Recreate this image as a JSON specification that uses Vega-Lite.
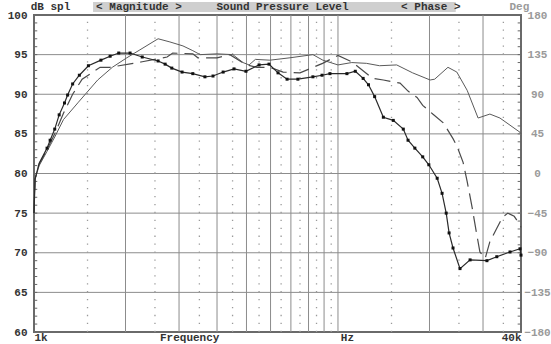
{
  "$schema": "https://vega.github.io/schema/vega-lite/v6.json",
  "width": 487,
  "height": 317,
  "autosize": {"type": "none"},
  "padding": {"left": 34, "top": 15, "right": 30, "bottom": 12},
  "background": "white",
  "config": {
    "view": {"stroke": "#6a6a6a", "strokeWidth": 2},
    "axis": {"grid": false, "ticks": false, "domain": false, "labelFont": "Liberation Mono", "labelFontSize": 11, "labelFontWeight": "bold", "labelColor": "#333333", "labelOverlap": false}
  },
  "datasets": {
    "curves": [
      {"s":"A","f":1000,"db":75.0},{"s":"A","f":1008,"db":79.3},{"s":"A","f":1040,"db":81.3},{"s":"A","f":1104,"db":83.2},{"s":"A","f":1130,"db":84.2},{"s":"A","f":1170,"db":85.6},{"s":"A","f":1210,"db":87.4},{"s":"A","f":1260,"db":88.9},{"s":"A","f":1290,"db":89.9},{"s":"A","f":1340,"db":91.3},{"s":"A","f":1410,"db":92.4},{"s":"A","f":1510,"db":93.6},{"s":"A","f":1660,"db":94.3},{"s":"A","f":1780,"db":94.8},{"s":"A","f":1900,"db":95.2},{"s":"A","f":2070,"db":95.2},{"s":"A","f":2270,"db":94.7},{"s":"A","f":2560,"db":94.2},{"s":"A","f":2700,"db":93.8},{"s":"A","f":2840,"db":93.3},{"s":"A","f":3070,"db":92.8},{"s":"A","f":3330,"db":92.6},{"s":"A","f":3650,"db":92.2},{"s":"A","f":3880,"db":92.3},{"s":"A","f":4190,"db":92.8},{"s":"A","f":4550,"db":93.2},{"s":"A","f":4980,"db":92.9},{"s":"A","f":5500,"db":93.7},{"s":"A","f":5930,"db":93.8},{"s":"A","f":6350,"db":92.7},{"s":"A","f":6800,"db":91.9},{"s":"A","f":7380,"db":91.9},{"s":"A","f":8270,"db":92.2},{"s":"A","f":8860,"db":92.4},{"s":"A","f":9410,"db":92.6},{"s":"A","f":10700,"db":92.6},{"s":"A","f":11400,"db":92.9},{"s":"A","f":12100,"db":92.0},{"s":"A","f":12600,"db":91.2},{"s":"A","f":13200,"db":89.7},{"s":"A","f":14100,"db":87.1},{"s":"A","f":15200,"db":86.7},{"s":"A","f":16400,"db":85.6},{"s":"A","f":17000,"db":84.2},{"s":"A","f":17900,"db":83.2},{"s":"A","f":19000,"db":82.1},{"s":"A","f":19900,"db":81.1},{"s":"A","f":21200,"db":79.4},{"s":"A","f":22000,"db":77.5},{"s":"A","f":22700,"db":75.0},{"s":"A","f":23200,"db":72.5},{"s":"A","f":23900,"db":70.6},{"s":"A","f":25200,"db":68.0},{"s":"A","f":27200,"db":69.1},{"s":"A","f":30900,"db":69.0},{"s":"A","f":33300,"db":69.5},{"s":"A","f":36800,"db":70.1},{"s":"A","f":39700,"db":70.5},{"s":"A","f":40000,"db":69.7},
      {"s":"B","f":1000,"db":75.0},{"s":"B","f":1008,"db":79.3},{"s":"B","f":1040,"db":81.0},{"s":"B","f":1104,"db":82.8},{"s":"B","f":1170,"db":84.6},{"s":"B","f":1250,"db":86.8},{"s":"B","f":1400,"db":89.0},{"s":"B","f":1620,"db":91.8},{"s":"B","f":1810,"db":93.4},{"s":"B","f":2020,"db":94.6},{"s":"B","f":2230,"db":95.6},{"s":"B","f":2560,"db":97.0},{"s":"B","f":2800,"db":96.6},{"s":"B","f":3090,"db":96.1},{"s":"B","f":3330,"db":95.5},{"s":"B","f":3520,"db":95.0},{"s":"B","f":4000,"db":95.1},{"s":"B","f":4510,"db":95.0},{"s":"B","f":4870,"db":94.0},{"s":"B","f":5100,"db":93.7},{"s":"B","f":5350,"db":94.4},{"s":"B","f":5970,"db":94.3},{"s":"B","f":6950,"db":94.6},{"s":"B","f":8270,"db":95.0},{"s":"B","f":8920,"db":94.3},{"s":"B","f":10000,"db":93.7},{"s":"B","f":11100,"db":94.0},{"s":"B","f":12400,"db":93.9},{"s":"B","f":13700,"db":93.6},{"s":"B","f":15600,"db":93.7},{"s":"B","f":17600,"db":92.7},{"s":"B","f":20100,"db":91.8},{"s":"B","f":20800,"db":91.9},{"s":"B","f":23000,"db":93.4},{"s":"B","f":24600,"db":92.8},{"s":"B","f":26600,"db":90.5},{"s":"B","f":28900,"db":87.0},{"s":"B","f":31600,"db":87.5},{"s":"B","f":34100,"db":87.0},{"s":"B","f":36800,"db":86.1},{"s":"B","f":39700,"db":85.2},{"s":"B","f":40000,"db":85.0},
      {"s":"C","f":1000,"db":75.0},{"s":"C","f":1008,"db":79.3},{"s":"C","f":1040,"db":81.2},{"s":"C","f":1104,"db":83.0},{"s":"C","f":1170,"db":85.0},{"s":"C","f":1250,"db":87.6},{"s":"C","f":1340,"db":90.0},{"s":"C","f":1440,"db":91.9},{"s":"C","f":1650,"db":93.4},{"s":"C","f":1780,"db":93.4},{"s":"C","f":2120,"db":93.9},{"s":"C","f":2270,"db":94.1},{"s":"C","f":2740,"db":94.7},{"s":"C","f":2860,"db":95.2},{"s":"C","f":3330,"db":95.1},{"s":"C","f":3460,"db":94.6},{"s":"C","f":4000,"db":94.6},{"s":"C","f":4410,"db":95.0},{"s":"C","f":5000,"db":93.7},{"s":"C","f":5410,"db":93.4},{"s":"C","f":5970,"db":93.4},{"s":"C","f":6600,"db":92.8},{"s":"C","f":7500,"db":92.7},{"s":"C","f":8900,"db":93.9},{"s":"C","f":10000,"db":94.9},{"s":"C","f":11100,"db":94.1},{"s":"C","f":13000,"db":92.0},{"s":"C","f":14100,"db":91.8},{"s":"C","f":16000,"db":91.4},{"s":"C","f":17000,"db":90.4},{"s":"C","f":18200,"db":89.6},{"s":"C","f":19000,"db":88.6},{"s":"C","f":20500,"db":87.5},{"s":"C","f":22200,"db":86.4},{"s":"C","f":23900,"db":84.4},{"s":"C","f":24600,"db":83.5},{"s":"C","f":25800,"db":81.4},{"s":"C","f":26600,"db":79.0},{"s":"C","f":27600,"db":75.8},{"s":"C","f":28400,"db":73.0},{"s":"C","f":29300,"db":70.1},{"s":"C","f":30500,"db":69.3},{"s":"C","f":31600,"db":71.4},{"s":"C","f":33300,"db":73.1},{"s":"C","f":34800,"db":74.5},{"s":"C","f":36200,"db":75.0},{"s":"C","f":38000,"db":74.6},{"s":"C","f":39700,"db":73.5},{"s":"C","f":40000,"db":73.2}
    ],
    "vgrid": [{"f":2000},{"f":3000},{"f":4000},{"f":5000},{"f":6000},{"f":7000},{"f":8000},{"f":9000},{"f":10000},{"f":20000},{"f":30000}],
    "vdots": [{"f":1500},{"f":2500},{"f":3500},{"f":4500},{"f":5500},{"f":6500},{"f":7500},{"f":8500},{"f":9500},{"f":15000},{"f":25000},{"f":35000}],
    "hgrid": [{"db":65},{"db":70},{"db":75},{"db":80},{"db":85},{"db":90},{"db":95}],
    "minor": [{"db":61},{"db":62},{"db":63},{"db":64},{"db":65},{"db":66},{"db":67},{"db":68},{"db":69},{"db":70},{"db":71},{"db":72},{"db":73},{"db":74},{"db":75},{"db":76},{"db":77},{"db":78},{"db":79},{"db":80},{"db":81},{"db":82},{"db":83},{"db":84},{"db":85},{"db":86},{"db":87},{"db":88},{"db":89},{"db":90},{"db":91},{"db":92},{"db":93},{"db":94},{"db":95},{"db":96},{"db":97},{"db":98},{"db":99}],
    "header": [{"f":1133,"label":"dB spl"},{"f":2215,"label":"< Magnitude >"},{"f":6570,"label":"Sound Pressure Level"},{"f":20200,"label":"< Phase >"},{"f":39500,"label":"Deg"}],
    "phase": [{"p":-180},{"p":180}]
  },
  "layer": [
    {
      "layer": [
        {
          "data": {"name": "hgrid"},
          "mark": {"type": "rule", "color": "#8c8c8c", "strokeWidth": 1},
          "encoding": {
            "y": {"field": "db", "type": "quantitative", "scale": {"domain": [60, 100], "nice": false, "zero": false},
                  "axis": {"orient": "left", "title": null, "values": [60, 65, 70, 75, 80, 85, 90, 95, 100], "labelPadding": 7, "labelFlush": false}}
          }
        },
        {
          "data": {"name": "vgrid"},
          "mark": {"type": "rule", "color": "#8c8c8c", "strokeWidth": 1},
          "encoding": {
            "x": {"field": "f", "type": "quantitative", "scale": {"type": "log", "domain": [1000, 40000], "nice": false},
                  "axis": {"orient": "bottom", "title": null, "values": [1000, 3240, 10700, 40000], "labelFlush": true, "labelPadding": -1,
                           "labelExpr": "datum.value == 1000 ? '1k' : datum.value == 3240 ? 'Frequency' : datum.value == 10700 ? 'Hz' : '40k'"}}
          }
        },
        {
          "data": {"name": "vdots"},
          "mark": {"type": "rule", "color": "#9a9a9a", "strokeWidth": 1.3, "strokeDash": [1.3, 6.625]},
          "encoding": {
            "x": {"field": "f", "type": "quantitative"},
            "y": {"datum": 60, "type": "quantitative", "axis": {"orient": "left", "title": null, "values": [60, 65, 70, 75, 80, 85, 90, 95, 100], "labelPadding": 7, "labelFlush": false}},
            "y2": {"datum": 100}
          }
        },
        {
          "data": {"name": "minor"},
          "mark": {"type": "rule", "color": "#666666", "strokeWidth": 1},
          "encoding": {
            "y": {"field": "db", "type": "quantitative", "axis": {"orient": "left", "title": null, "values": [60, 65, 70, 75, 80, 85, 90, 95, 100], "labelPadding": 7, "labelFlush": false}},
            "x": {"datum": 1000, "type": "quantitative"},
            "x2": {"datum": 1025}
          }
        },
        {
          "data": {"name": "minor"},
          "mark": {"type": "rule", "color": "#666666", "strokeWidth": 1},
          "encoding": {
            "y": {"field": "db", "type": "quantitative", "axis": {"orient": "left", "title": null, "values": [60, 65, 70, 75, 80, 85, 90, 95, 100], "labelPadding": 7, "labelFlush": false}},
            "x": {"datum": 39000, "type": "quantitative"},
            "x2": {"datum": 40000}
          }
        },
        {
          "data": {"values": [{}]},
          "mark": {"type": "rect", "color": "#cfcfcf"},
          "encoding": {
            "x": {"datum": 1564, "type": "quantitative"},
            "x2": {"datum": 24400},
            "y": {"datum": 101.64, "type": "quantitative", "axis": {"orient": "left", "title": null, "values": [60, 65, 70, 75, 80, 85, 90, 95, 100], "labelPadding": 7, "labelFlush": false}},
            "y2": {"datum": 100.38}
          }
        },
        {
          "data": {"name": "header"},
          "mark": {"type": "text", "font": "Liberation Mono", "fontSize": 11, "fontWeight": "bold", "baseline": "middle", "align": "center", "dy": -8},
          "encoding": {
            "x": {"field": "f", "type": "quantitative"},
            "y": {"datum": 100, "type": "quantitative", "axis": {"orient": "left", "title": null, "values": [60, 65, 70, 75, 80, 85, 90, 95, 100], "labelPadding": 7, "labelFlush": false}},
            "text": {"field": "label"},
            "color": {"condition": {"test": "datum.label == 'Deg'", "value": "#9a9a9a"}, "value": "#333333"}
          }
        },
        {
          "data": {"name": "curves"},
          "transform": [{"filter": "datum.s == 'B'"}],
          "mark": {"type": "line", "color": "#5a5a5a", "strokeWidth": 1},
          "encoding": {
            "x": {"field": "f", "type": "quantitative"},
            "y": {"field": "db", "type": "quantitative", "axis": {"orient": "left", "title": null, "values": [60, 65, 70, 75, 80, 85, 90, 95, 100], "labelPadding": 7, "labelFlush": false}}
          }
        },
        {
          "data": {"name": "curves"},
          "transform": [{"filter": "datum.s == 'C'"}],
          "mark": {"type": "line", "color": "#4a4a4a", "strokeWidth": 1.2, "strokeDash": [16, 7]},
          "encoding": {
            "x": {"field": "f", "type": "quantitative"},
            "y": {"field": "db", "type": "quantitative", "axis": {"orient": "left", "title": null, "values": [60, 65, 70, 75, 80, 85, 90, 95, 100], "labelPadding": 7, "labelFlush": false}}
          }
        },
        {
          "data": {"name": "curves"},
          "transform": [{"filter": "datum.s == 'A'"}],
          "mark": {"type": "line", "color": "#2a2a2a", "strokeWidth": 1.2},
          "encoding": {
            "x": {"field": "f", "type": "quantitative"},
            "y": {"field": "db", "type": "quantitative", "axis": {"orient": "left", "title": null, "values": [60, 65, 70, 75, 80, 85, 90, 95, 100], "labelPadding": 7, "labelFlush": false}}
          }
        },
        {
          "data": {"name": "curves"},
          "transform": [{"filter": "datum.s == 'A' && datum.f > 1100"}],
          "mark": {"type": "point", "shape": "square", "filled": true, "color": "#111111", "size": 9, "opacity": 1},
          "encoding": {
            "x": {"field": "f", "type": "quantitative"},
            "y": {"field": "db", "type": "quantitative", "axis": {"orient": "left", "title": null, "values": [60, 65, 70, 75, 80, 85, 90, 95, 100], "labelPadding": 7, "labelFlush": false}}
          }
        }
      ]
    },
    {
      "data": {"name": "phase"},
      "mark": {"type": "point", "opacity": 0},
      "encoding": {
        "y": {"field": "p", "type": "quantitative", "scale": {"domain": [-180, 180], "nice": false},
              "axis": {"orient": "right", "title": null, "values": [-180, -135, -90, -45, 0, 45, 90, 135, 180], "labelAlign": "center", "labelPadding": 16, "labelColor": "#9a9a9a", "labelFlush": false}}
      }
    }
  ],
  "resolve": {"scale": {"y": "independent"}}
}
